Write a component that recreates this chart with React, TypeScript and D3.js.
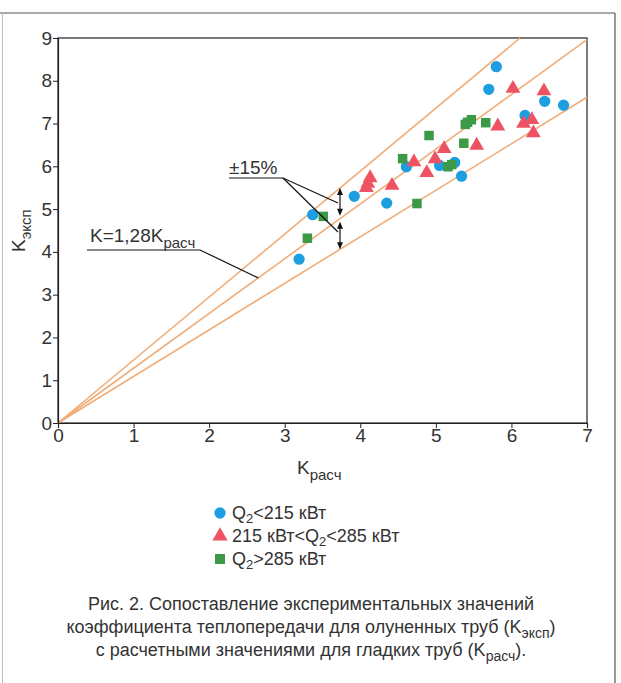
import React, { useEffect, useRef } from 'react';
import * as d3 from 'd3';

// data
const blueX = [3.19, 3.37, 3.92, 4.35, 4.61, 5.05, 5.25, 5.34, 5.70, 5.80, 6.18, 6.44, 6.69];
const blueY = [3.83, 4.87, 5.30, 5.14, 5.99, 6.02, 6.09, 5.77, 7.80, 8.33, 7.19, 7.52, 7.43];

const redX = [4.08, 4.10, 4.13, 4.42, 4.71, 4.88, 4.99, 5.11, 5.54, 5.82, 6.02, 6.16, 6.27, 6.29, 6.43];
const redY = [5.50, 5.60, 5.73, 5.55, 6.10, 5.85, 6.17, 6.41, 6.49, 6.94, 7.82, 7.00, 7.09, 6.78, 7.76];

const greenX = [3.30, 3.51, 4.56, 4.75, 4.91, 5.16, 5.21, 5.37, 5.39, 5.42, 5.47, 5.66];
const greenY = [4.32, 4.83, 6.18, 5.13, 6.72, 5.99, 6.04, 6.54, 6.98, 7.03, 7.09, 7.02];

const slopes = [1.28 * 0.85, 1.28, 1.28 * 1.15];
const xTicks = [0, 1, 2, 3, 4, 5, 6, 7];
const yTicks = [0, 1, 2, 3, 4, 5, 6, 7, 8, 9];

const legendItems = [
    { shape: 'circle', color: '#1c9ee0' },
    { shape: 'triangle', color: '#ee5363' },
    { shape: 'square', color: '#3c9a46' },
];

const captionLines = [
    'Рис. 2. Сопоставление экспериментальных значений',
    'коэффициента теплопередачи для олуненных труб (K',
    'с расчетными значениями для гладких труб (K',
];

const FONT = '"Liberation Sans", Arial, sans-serif';
const TEXT = '#333';

function App() {
    const ref = useRef<SVGSVGElement | null>(null);

    useEffect(() => {
        const svg = d3.select(ref.current);
        svg.selectAll('*').remove();

        const left = 58, right = 587, top = 38, bottom = 423;
        const x = d3.scaleLinear().domain([0, 7]).range([left, right]);
        const y = d3.scaleLinear().domain([0, 9]).range([bottom, top]);

        // outer frame of the figure
        svg.append('line').attr('x1', 0).attr('x2', 615).attr('y1', 13).attr('y2', 13)
            .attr('stroke', '#555').attr('stroke-width', 1.2);
        svg.append('line').attr('x1', 615).attr('x2', 615).attr('y1', 13).attr('y2', 683)
            .attr('stroke', '#555').attr('stroke-width', 1.2);
        svg.append('line').attr('x1', 2.5).attr('x2', 2.5).attr('y1', 13).attr('y2', 683)
            .attr('stroke', '#bbb').attr('stroke-width', 1);

        // plot box
        svg.append('rect')
            .attr('x', left).attr('y', top)
            .attr('width', right - left).attr('height', bottom - top)
            .attr('fill', 'none').attr('stroke', '#222').attr('stroke-width', 1.2);

        // reference lines K = 1.28 Kрасч ±15%
        slopes.forEach(s => {
            const xEnd = Math.min(7, 9 / s);
            svg.append('line')
                .attr('x1', x(0)).attr('y1', y(0))
                .attr('x2', x(xEnd)).attr('y2', y(s * xEnd))
                .attr('stroke', '#f0ad78').attr('stroke-width', 1.6);
        });

        // axes
        const xAxis = d3.axisBottom(x).tickValues(xTicks).tickSize(5).tickPadding(1)
            .tickFormat(d3.format('d'));
        const gx = svg.append('g').attr('transform', `translate(0,${bottom})`).call(xAxis);
        const yAxis = d3.axisLeft(y).tickValues(yTicks).tickSize(5).tickPadding(1)
            .tickFormat(d3.format('d'));
        const gy = svg.append('g').attr('transform', `translate(${left},0)`).call(yAxis);
        [gx, gy].forEach(g => {
            g.select('.domain').attr('stroke', '#222').attr('stroke-width', 1.2);
            g.selectAll('line').attr('stroke', '#222');
            g.selectAll('text').attr('font-family', FONT).attr('font-size', 19).attr('fill', TEXT);
        });

        // axis labels
        const xl = svg.append('text').attr('x', 297).attr('y', 474)
            .attr('font-family', FONT).attr('font-size', 19).attr('fill', TEXT);
        xl.append('tspan').text('K');
        xl.append('tspan').attr('dy', 6).attr('font-size', 15).text('расч');

        const yl = svg.append('text')
            .attr('transform', 'translate(25,252) rotate(-90)')
            .attr('font-family', FONT).attr('font-size', 19).attr('fill', TEXT);
        yl.append('tspan').text('K');
        yl.append('tspan').attr('dy', 6).attr('font-size', 15).text('эксп');

        // markers
        const sym = (shape: string, size: number) => {
            const t = shape === 'circle' ? d3.symbolCircle : shape === 'triangle' ? d3.symbolTriangle : d3.symbolSquare;
            return d3.symbol().type(t).size(size)();
        };
        const series = [
            { xs: blueX, ys: blueY, item: legendItems[0], size: 100 },
            { xs: redX, ys: redY, item: legendItems[1], size: 95 },
            { xs: greenX, ys: greenY, item: legendItems[2], size: 90 },
        ];
        series.forEach(s => {
            svg.append('g').selectAll('path')
                .data(s.xs.map((v, i) => [v, s.ys[i]]))
                .enter()
                .append('path')
                .attr('d', sym(s.item.shape, s.size))
                .attr('transform', d => `translate(${x(d[0])},${y(d[1])})`)
                .attr('fill', s.item.color);
        });

        // ±15% annotation
        const ax = 340;
        const ann = svg.append('g').attr('stroke', '#111').attr('stroke-width', 1.2).attr('fill', 'none');
        ann.append('polyline').attr('points', `229,178 283,178 ${ax - 2},203`);
        ann.append('line').attr('x1', 283).attr('y1', 178).attr('x2', ax - 2).attr('y2', 232);
        const xv = x.invert(ax);
        const pairs = [[y(slopes[2] * xv), y(slopes[1] * xv) - 3], [y(slopes[1] * xv) + 3, y(slopes[0] * xv)]];
        pairs.forEach(([a, b]) => {
            ann.append('line').attr('x1', ax).attr('x2', ax).attr('y1', a + 2).attr('y2', b - 2);
            [[a, 1], [b, -1]].forEach(([p, dir]) => {
                svg.append('path')
                    .attr('d', `M${ax},${p} L${ax - 3},${p + dir * 7} L${ax + 3},${p + dir * 7} Z`)
                    .attr('fill', '#111');
            });
        });
        svg.append('text').attr('x', 229).attr('y', 174)
            .attr('font-family', FONT).attr('font-size', 19).attr('fill', TEXT).text('±15%');

        // K=1,28Kрасч annotation
        ann.append('polyline').attr('points', `87,250 200,250 ${x(2.65)},${y(1.28 * 2.65)}`);
        const kt = svg.append('text').attr('x', 90).attr('y', 242)
            .attr('font-family', FONT).attr('font-size', 19).attr('fill', TEXT);
        kt.append('tspan').text('K=1,28K');
        kt.append('tspan').attr('dy', 6).attr('font-size', 15).text('расч');

        // legend
        const legendLabels = [
            [['Q', 0], ['2', 1], ['<215 кВт', 0]],
            [['215 кВт<Q', 0], ['2', 1], ['<285 кВт', 0]],
            [['Q', 0], ['2', 1], ['>285 кВт', 0]],
        ];
        legendItems.forEach((it, i) => {
            const cy = 513 + i * 23;
            svg.append('path').attr('d', sym(it.shape, 100))
                .attr('transform', `translate(220,${cy})`).attr('fill', it.color);
            const t = svg.append('text').attr('x', 232).attr('y', cy + 6)
                .attr('font-family', FONT).attr('font-size', 18).attr('fill', TEXT);
            let shifted = false;
            (legendLabels[i] as [string, number][]).forEach(([s, sub]) => {
                const dy = sub ? 4 : shifted ? -4 : 0;
                shifted = !!sub;
                t.append('tspan').attr('dy', dy).attr('font-size', sub ? 13 : 18).text(s);
            });
        });

        // caption
        const subs = ['', 'эксп', 'расч'];
        const tails = ['', ')', ').'];
        captionLines.forEach((line, i) => {
            const t = svg.append('text').attr('x', 311).attr('y', 610 + i * 23)
                .attr('text-anchor', 'middle')
                .attr('font-family', FONT).attr('font-size', 18).attr('fill', TEXT);
            t.append('tspan').text(line);
            if (subs[i]) {
                t.append('tspan').attr('dy', 5).attr('font-size', 14).text(subs[i]);
                t.append('tspan').attr('dy', -5).text(tails[i]);
            }
        });
    }, []);

    return (
        <svg
            ref={ref}
            width={621}
            height={683}
            style={{ position: 'absolute', left: 0, top: 0, background: '#fff' }}
        />
    );
}

export default App;
